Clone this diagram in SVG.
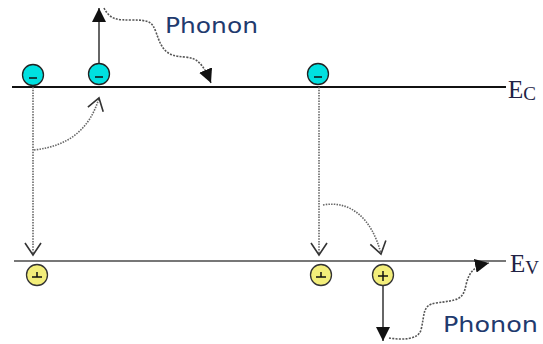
<svg xmlns="http://www.w3.org/2000/svg" width="543" height="344" viewBox="0 0 543 344">
<style>
.band{stroke-width:2;fill:none}
.dot{stroke:#666;stroke-width:1.6;stroke-dasharray:1.5 1.2;fill:none}
.wave{stroke:#555;stroke-width:1.6;stroke-dasharray:2 1.3;fill:none}
.solid{stroke:#333;stroke-width:1.5;fill:none}
.el{fill:#00e0e0;stroke:#222;stroke-width:1.3}
.ho{fill:#f3ee7a;stroke:#333;stroke-width:1.3}
.sign{stroke:#111;stroke-width:1.5}
.lbl{font-family:"DejaVu Sans",sans-serif;font-size:21px;fill:#1f3a6e}
.lev{font-family:"Liberation Serif",serif;fill:#222244}
</style>
<defs>
<marker id="tri" markerUnits="userSpaceOnUse" markerWidth="14" markerHeight="14" refX="13" refY="6.5" orient="auto" viewBox="0 0 13 13">
<path d="M0,0 L13,6.5 L0,13 Z" fill="#111"/>
</marker>
<marker id="vee" markerUnits="userSpaceOnUse" markerWidth="16" markerHeight="20" refX="13" refY="9" orient="auto" viewBox="0 0 16 18">
<path d="M1,1 L13,9 L1,17" fill="none" stroke="#333" stroke-width="1.6"/>
</marker>
</defs>

<g id="Ec-band">
<line x1="12" y1="87" x2="506" y2="87" class="band" stroke="#111"/>
<text class="lev" x="508" y="98" font-size="25">E<tspan font-size="19" dy="2">C</tspan></text>
</g>
<g id="Ev-band">
<line x1="14" y1="261" x2="506" y2="261" class="band" stroke="#777" stroke-width="2.4"/>
<text class="lev" x="510" y="272" font-size="25">E<tspan font-size="19" dy="2">V</tspan></text>
</g>

<g id="connectors">
<path class="solid" d="M99,64 L99,8" marker-end="url(#tri)"/>
<path class="wave" d="M104,8 C110,20 118,20 132,20 C150,20 152,22 156,32 C162,50 166,56 185,57 C198,58 203,64 211,83" marker-end="url(#tri)"/>
<path class="dot" d="M33,87 L33,255" marker-end="url(#vee)"/>
<path class="dot" d="M34,150 C70,146 90,128 99,98" marker-end="url(#vee)"/>
<path class="dot" d="M319,87 L319,255" marker-end="url(#vee)"/>
<path class="dot" d="M323,205 C350,200 372,218 381,254" marker-end="url(#vee)"/>
<path class="solid" d="M383,286 L383,341" marker-end="url(#tri)"/>
<path class="wave" d="M389,338 C402,340 418,340 421,330 C425,314 422,305 436,303 C458,300 463,300 466,285 C469,272 474,266 489,263" marker-end="url(#tri)"/>
</g>

<g id="electron1"><circle class="el" cx="33" cy="75" r="10.5"/><line class="sign" x1="29" y1="78" x2="37" y2="78"/></g>
<g id="electron2"><circle class="el" cx="99" cy="74" r="10.5"/><line class="sign" x1="95" y1="77" x2="103" y2="77"/></g>
<g id="electron3"><circle class="el" cx="318" cy="74" r="10.5"/><line class="sign" x1="314" y1="77" x2="322" y2="77"/></g>

<g id="hole1"><circle class="ho" cx="37" cy="275" r="10.5"/><line class="sign" x1="32" y1="277" x2="42" y2="277"/><line class="sign" x1="37" y1="272" x2="37" y2="277"/></g>
<g id="hole2"><circle class="ho" cx="321" cy="275" r="10.5"/><line class="sign" x1="316" y1="277" x2="326" y2="277"/><line class="sign" x1="321" y1="272" x2="321" y2="277"/></g>
<g id="hole3"><circle class="ho" cx="383" cy="275" r="10.5"/><line class="sign" x1="378" y1="276" x2="388" y2="276"/><line class="sign" x1="383" y1="271" x2="383" y2="281"/></g>

<g id="phonon-top"><text class="lbl" x="165" y="33" textLength="93" lengthAdjust="spacingAndGlyphs">Phonon</text></g>
<g id="phonon-bottom"><text class="lbl" x="443" y="332" textLength="95" lengthAdjust="spacingAndGlyphs">Phonon</text></g>
</svg>
